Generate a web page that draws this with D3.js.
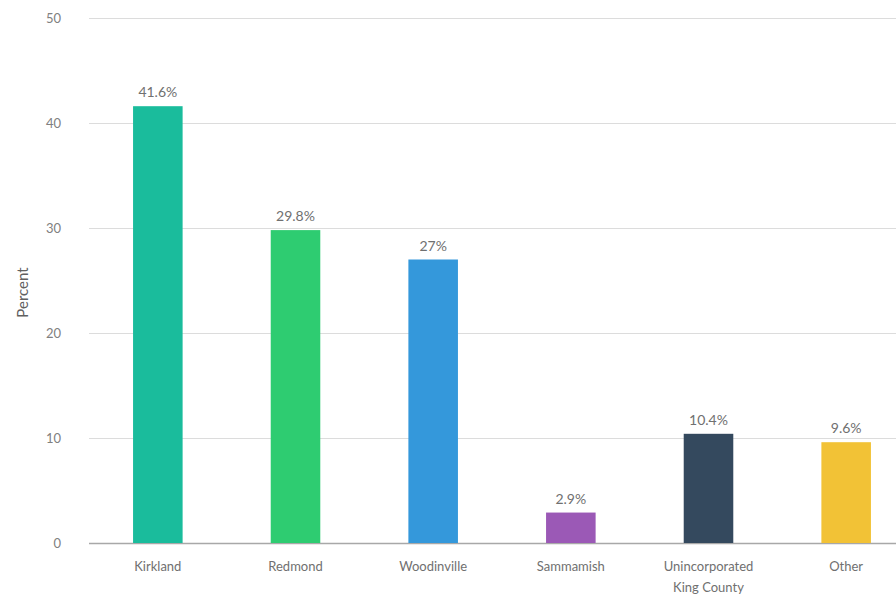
<!DOCTYPE html>
<html>
<head>
<meta charset="utf-8">
<script src="https://cdn.jsdelivr.net/npm/d3@7"></script>
<style>
  html, body { margin: 0; padding: 0; background: #fff; overflow: hidden; }
  svg { display: block; font-family: Lato, "Open Sans", sans-serif; }
</style>
</head>
<body>
<svg id="chart" width="896" height="605"></svg>
<script>
// Place of residence, share of respondents
const categories = ["Kirkland", "Redmond", "Woodinville", "Sammamish", "Unincorporated King County", "Other"];
const values = [41.6, 29.8, 27, 2.9, 10.4, 9.6];
const labels = ["41.6%", "29.8%", "27%", "2.9%", "10.4%", "9.6%"];
const colors = ["#1abc9c", "#2ecc71", "#3498db", "#9b59b6", "#34495e", "#f2c236"];
const yTicks = [0, 10, 20, 30, 40, 50];

const svg = d3.select("#chart");
const plotLeft = 89, plotRight = 915, plotTop = 18, plotBottom = 543;

const x = d3.scaleBand()
  .domain(categories)
  .range([plotLeft, plotRight])
  .paddingInner(0.64)
  .paddingOuter(0.32);

const y = d3.scaleLinear().domain([0, 50]).range([plotBottom, plotTop]);

// Horizontal gridlines with tick labels
const yAxis = d3.axisLeft(y)
  .tickValues(yTicks)
  .tickSize(-(896 - plotLeft))
  .tickPadding(28)
  .tickFormat(d3.format("d"));

const gy = svg.append("g")
  .attr("transform", `translate(${plotLeft},0)`)
  .call(yAxis);
gy.select(".domain").remove();
gy.selectAll(".tick line")
  .attr("stroke", d => d === 0 ? "#a8a8a8" : "#dcdcdc")
  .attr("stroke-width", d => d === 0 ? 1.5 : 1.2);
gy.selectAll(".tick text")
  .attr("fill", "#808080")
  .attr("font-size", 13)
  .attr("font-family", "Lato, sans-serif");

// Axis title
svg.append("text")
  .attr("transform", `translate(28,${(plotTop + plotBottom) / 2 + 12}) rotate(-90)`)
  .attr("text-anchor", "middle")
  .attr("fill", "#606060")
  .attr("font-size", 15)
  .text("Percent");

// Bars
svg.append("g").selectAll("rect")
  .data(categories)
  .join("rect")
  .attr("x", d => x(d))
  .attr("width", x.bandwidth())
  .attr("y", (d, i) => y(values[i]))
  .attr("height", (d, i) => y(0) - y(values[i]))
  .attr("fill", (d, i) => colors[i]);

// Value labels
svg.append("g").selectAll("text")
  .data(categories)
  .join("text")
  .attr("x", d => x(d) + x.bandwidth() / 2)
  .attr("y", (d, i) => y(values[i]) - 9)
  .attr("text-anchor", "middle")
  .attr("fill", "#707070")
  .attr("font-size", 14)
  .text((d, i) => labels[i]);

// Category labels (wrapped at the word boundary for long names)
const catLines = {
  "Unincorporated King County": ["Unincorporated", "King County"]
};
const gx = svg.append("g");
categories.forEach(c => {
  const lines = catLines[c] || [c];
  const t = gx.append("text")
    .attr("x", x(c) + x.bandwidth() / 2)
    .attr("y", 571)
    .attr("text-anchor", "middle")
    .attr("fill", "#707070")
    .attr("font-size", 13);
  lines.forEach((ln, k) => {
    t.append("tspan")
      .attr("x", x(c) + x.bandwidth() / 2)
      .attr("dy", k === 0 ? 0 : 21)
      .text(ln);
  });
});
</script>
</body>
</html>
